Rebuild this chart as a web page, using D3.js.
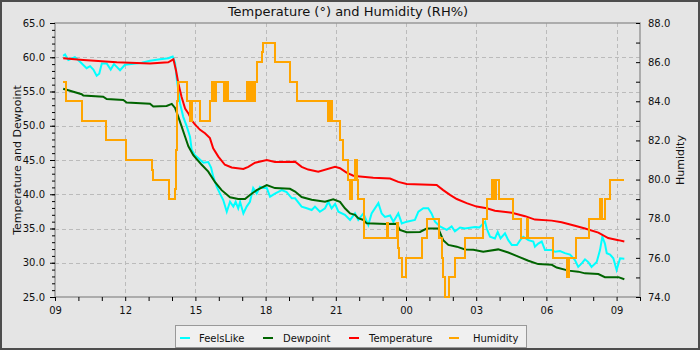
<!DOCTYPE html>
<html><head><meta charset="utf-8">
<script src="https://cdn.jsdelivr.net/npm/d3@7"></script>
<style>
body{margin:0;background:#e5e5e5}
svg{display:block}
text{font-family:"DejaVu Sans",sans-serif;fill:#111}
</style>
</head><body><svg id="c" width="700" height="350"></svg>
<script>
// ---- data (hours counted from midnight of day 1; >24 = next day) ----
const tempHours=[9.35,10.21,11.64,13.06,13.84,14.06,14.17,14.27,14.41,14.56,14.70,14.84,14.98,15.06,15.20,15.41,15.62,15.76,15.98,16.26,16.55,17.05,17.26,17.55,18.05,18.40,19.26,19.54,19.82,20.25,20.97,21.18,21.46,21.75,22.03,22.60,23.32,23.67,24.03,25.31,25.59,25.88,26.17,26.59,27.02,27.45,27.80,28.52,29.09,29.51,30.23,30.65,31.22,31.65,32.22,32.64,33.08,33.33];
const tempValues=[59.85,59.6,59.26,59.1,59.26,59.7,58.1,56.2,54.2,52.5,51.8,50.8,50.2,49.9,49.4,48.9,48.2,46.7,45.5,44.3,43.9,43.7,44.0,44.6,45.0,44.7,44.75,44.0,43.6,43.3,44.0,43.8,43.15,42.7,42.6,42.4,42.3,41.8,41.5,41.35,40.6,39.9,39.3,38.7,38.2,37.95,37.6,37.3,36.8,36.3,36.15,35.9,35.4,35.0,34.4,33.6,33.3,33.1];

const dewHours=[9.35,9.64,10.14,10.21,11.06,11.21,11.92,12.06,13.06,13.20,13.77,13.99,14.13,14.27,14.41,14.56,14.70,14.91,15.27,15.55,15.84,16.12,16.48,16.83,17.12,17.33,17.62,18.05,18.40,19.04,19.26,19.54,19.97,20.54,20.89,21.18,21.39,21.61,21.82,21.96,22.18,22.32,23.17,23.60,23.74,24.03,24.60,24.88,25.38,25.59,25.81,26.17,26.52,26.88,27.30,27.94,28.37,28.80,29.23,29.65,30.23,30.44,30.94,31.36,31.65,32.22,32.50,33.08,33.33];
const dewValues=[55.4,55.1,54.6,54.4,54.25,53.9,53.75,53.4,53.2,52.8,52.9,53.2,52.6,51.3,49.9,48.4,47.0,45.7,44.3,43.3,41.75,40.6,39.55,39.3,39.3,39.9,40.6,41.35,40.9,40.8,40.4,39.6,39.2,38.9,39.25,38.9,37.95,37.2,37.0,36.5,36.25,35.75,35.65,35.7,34.8,34.45,34.5,35.0,35.0,33.3,32.6,32.35,31.95,31.9,31.6,31.95,31.5,30.9,30.3,29.8,29.7,29.3,28.85,28.7,28.45,28.35,27.9,27.9,27.6];

const feelsHours=[9.35,9.43,9.57,9.85,10.07,10.35,10.50,10.64,10.78,10.89,
11.00,11.21,11.38,11.52,11.64,11.78,11.99,12.71,13.06,13.49,
13.84,14.03,14.13,14.20,14.27,14.34,14.48,14.63,14.77,14.84,
14.98,15.12,15.34,15.55,15.67,15.76,15.91,16.05,16.19,16.34,
16.48,16.62,16.72,16.83,16.91,17.05,17.19,17.33,17.47,17.62,
17.76,17.90,18.05,18.19,18.40,18.69,18.90,19.12,19.26,19.54,
19.76,19.97,20.11,20.32,20.54,20.68,20.82,20.97,21.11,21.39,
21.61,21.82,21.96,22.18,22.39,22.53,22.82,22.96,23.10,23.32,
23.46,23.67,23.82,24.03,24.38,24.53,24.74,24.95,25.09,25.24,
25.45,25.74,25.95,26.09,26.31,26.52,26.95,27.14,27.38,27.45,
27.59,27.80,27.92,28.04,28.23,28.37,28.52,28.74,28.88,29.01,
29.23,29.44,29.51,29.65,29.80,29.94,30.23,30.37,30.58,30.79,
31.01,31.22,31.36,31.51,31.65,31.79,31.93,32.15,32.29,32.39,
32.50,32.58,32.72,32.86,33.00,33.15,33.33];
const feelsValues=[60.2,60.4,59.6,60.0,59.35,58.4,58.7,58.2,57.3,57.6,
59.1,59.1,58.2,59.0,58.6,58.1,58.9,59.2,59.5,59.7,
59.85,60.1,59.2,56.9,55.2,53.3,51.3,49.9,48.4,46.5,
45.7,45.3,44.6,44.7,43.9,42.6,41.1,40.1,39.15,37.45,
38.9,38.2,38.9,37.95,38.9,37.2,38.2,38.9,40.9,40.1,
41.1,40.9,40.9,39.65,40.1,40.6,40.3,39.4,39.4,38.2,
37.95,37.7,38.2,37.45,37.95,38.9,37.95,38.6,37.45,37.0,
36.25,37.2,36.25,37.2,35.5,37.2,38.7,37.2,36.7,36.9,
36.0,37.2,35.75,36.0,36.25,37.45,37.95,37.95,37.2,36.0,
35.3,34.8,35.3,34.6,35.15,35.0,35.2,35.15,36.0,35.0,
33.8,33.55,34.5,33.55,34.3,33.3,32.6,32.6,33.3,33.8,
33.3,33.1,32.35,32.8,33.1,31.85,31.85,31.6,31.7,31.4,
31.2,30.4,29.4,29.9,30.5,30.1,29.4,30.1,31.85,33.8,
32.8,31.4,31.2,30.65,28.95,30.65,30.6];

const humHours=[9.35,9.46,10.14,11.17,12.03,13.13,13.18,13.87,14.13,14.17,
14.21,14.27,14.63,14.77,14.85,15.20,15.62,15.70,15.74,15.78,
15.82,15.87,16.24,16.28,16.32,16.36,16.41,17.19,17.25,17.33,
17.38,17.42,17.46,17.55,17.62,17.83,17.90,18.40,19.04,19.35,
20.68,20.72,20.76,20.81,20.85,21.18,21.32,21.51,21.62,21.69,
21.80,21.91,21.95,22.22,23.17,23.21,23.60,23.67,23.71,23.82,
23.99,24.67,24.88,25.41,25.53,25.59,25.67,25.85,26.09,26.52,
27.30,27.45,27.69,27.77,27.85,27.99,28.59,28.92,29.16,29.23,
30.29,30.86,30.97,31.25,31.83,32.29,32.39,32.50,32.72,33.33];
const humValues=[85,84,83,82,81,80.5,80,79,79.5,81.5,
84,85,84,83,84,83,84,85,84,85,
84,85,84,85,84,85,84,85,84,85,
84,85,84,85,86,86.5,87,86,85,84,
83,84,83,84,83,82,81,80,79,80,
81,80,79,77,77.8,77,77.8,76.5,76,75,
76,77,78,77,76,75,74,75,76,77,
78,79,80,79,80,79,78,77,78,77,
76,75,76,77,78,79,78,79,80,80];

const leftTicks=[25,30,35,40,45,50,55,60,65];
const rightTicks=[74,76,78,80,82,84,86,88];
const seriesNames=["FeelsLike","Dewpoint","Temperature","Humidity"];
const seriesColors=["#00ffff","#006400","#ff0000","#ffa500"];

// ---- chart ----
const W=700,H=350, L=55,R=640,T=23,B=297;
const base=new Date(2024,0,1);
const toDate=h=>new Date(base.getTime()+h*3600e3);
const x=d3.scaleTime().domain([toDate(9),toDate(34)]).range([L,R]);
const y=d3.scaleLinear().domain([25,65]).range([B,T]);
const y2=d3.scaleLinear().domain([74,88]).range([B,T]);

const svg=d3.select("#c");
svg.append("rect").attr("x",1).attr("y",1).attr("width",W-2).attr("height",H-2)
  .attr("fill","#e5e5e5").attr("stroke","#4d4d4d").attr("stroke-width",2);

// grid
const hourTicks=d3.timeHour.range(toDate(9),toDate(34.01));
const g=svg.append("g").attr("stroke","#bbb").attr("stroke-dasharray","4,3").attr("stroke-width",1);
leftTicks.filter(v=>v>25&&v<65).forEach(v=>{
  g.append("line").attr("x1",L).attr("x2",R).attr("y1",Math.round(y(v))+0.5).attr("y2",Math.round(y(v))+0.5);
});
hourTicks.filter(d=>d.getHours()%3===0 && x(d)>L+1 && x(d)<R-1).forEach(d=>{
  g.append("line").attr("x1",Math.round(x(d))+0.5).attr("x2",Math.round(x(d))+0.5).attr("y1",T).attr("y2",B);
});

// frame
svg.append("rect").attr("x",L).attr("y",T).attr("width",R-L).attr("height",B-T)
  .attr("fill","none").attr("stroke","#999").attr("stroke-width",1.5);

// axes
const fmt=d3.format(".1f");
const ax1=svg.append("g").attr("transform",`translate(${L},0)`)
  .call(d3.axisLeft(y).tickValues(leftTicks).tickSize(5).tickPadding(5).tickFormat(fmt));
const ax1m=svg.append("g").attr("transform",`translate(${L},0)`)
  .call(d3.axisLeft(y).tickValues(d3.range(25,66,1)).tickSize(3).tickFormat(""));
const ax2=svg.append("g").attr("transform",`translate(${R},0)`)
  .call(d3.axisRight(y2).tickValues(rightTicks).tickSize(-4).tickPadding(8).tickFormat(fmt));
const ax2m=svg.append("g").attr("transform",`translate(${R},0)`)
  .call(d3.axisRight(y2).tickValues(d3.range(75,88,2)).tickSize(-4).tickFormat(""));
const axb=svg.append("g").attr("transform",`translate(0,${B})`)
  .call(d3.axisBottom(x).tickValues(hourTicks).tickSize(4).tickPadding(6)
    .tickFormat(d=>d.getHours()%3===0?d3.timeFormat("%H")(d):""));
[ax1,ax1m,ax2,ax2m,axb].forEach(a=>{
  a.select(".domain").remove();
  a.selectAll("text").attr("font-size",10).attr("font-family","DejaVu Sans");
  a.selectAll(".tick line").attr("stroke","#000");
});

// titles
svg.append("text").attr("x",348).attr("y",16).attr("text-anchor","middle")
  .attr("font-size",13).text("Temperature (°) and Humidity (RH%)");
svg.append("text").attr("transform",`translate(21,${(T+B)/2}) rotate(-90)`)
  .attr("text-anchor","middle").attr("font-size",11).text("Temperature and Dewpoint");
svg.append("text").attr("transform",`translate(684,${(T+B)/2}) rotate(-90)`)
  .attr("text-anchor","middle").attr("font-size",11).text("Humidity");

// lines
const mk=(hs,vs)=>hs.map((h,i)=>({t:toDate(h),v:vs[i]}));
const lineL=d3.line().x(d=>x(d.t)).y(d=>y(d.v));
const lineR=d3.line().x(d=>x(d.t)).y(d=>y2(d.v)).curve(d3.curveStepAfter);
const series=[
  {d:mk(feelsHours,feelsValues),gen:lineL,crisp:false},
  {d:mk(dewHours,dewValues),gen:lineL,crisp:false},
  {d:mk(tempHours,tempValues),gen:lineL,crisp:false},
  {d:mk(humHours,humValues),gen:lineR,crisp:true}
];
series.forEach((s,i)=>{
  svg.append("path").attr("d",s.gen(s.d)).attr("fill","none")
    .attr("stroke",seriesColors[i]).attr("stroke-width",2)
    .attr("shape-rendering",s.crisp?"crispEdges":"auto");
});

// legend
const lg=svg.append("g");
lg.append("rect").attr("x",175.5).attr("y",325.5).attr("width",351).attr("height",22)
  .attr("fill","#f0f0f0").attr("stroke","#999");
const swX=[180,263,349,449], txX=[199,283,369,473];
seriesNames.forEach((n,i)=>{
  lg.append("line").attr("x1",swX[i]).attr("x2",swX[i]+10).attr("y1",338).attr("y2",338)
    .attr("stroke",seriesColors[i]).attr("stroke-width",2);
  lg.append("text").attr("x",txX[i]).attr("y",341.5).attr("font-size",10).text(n);
});
</script>
</body></html>
